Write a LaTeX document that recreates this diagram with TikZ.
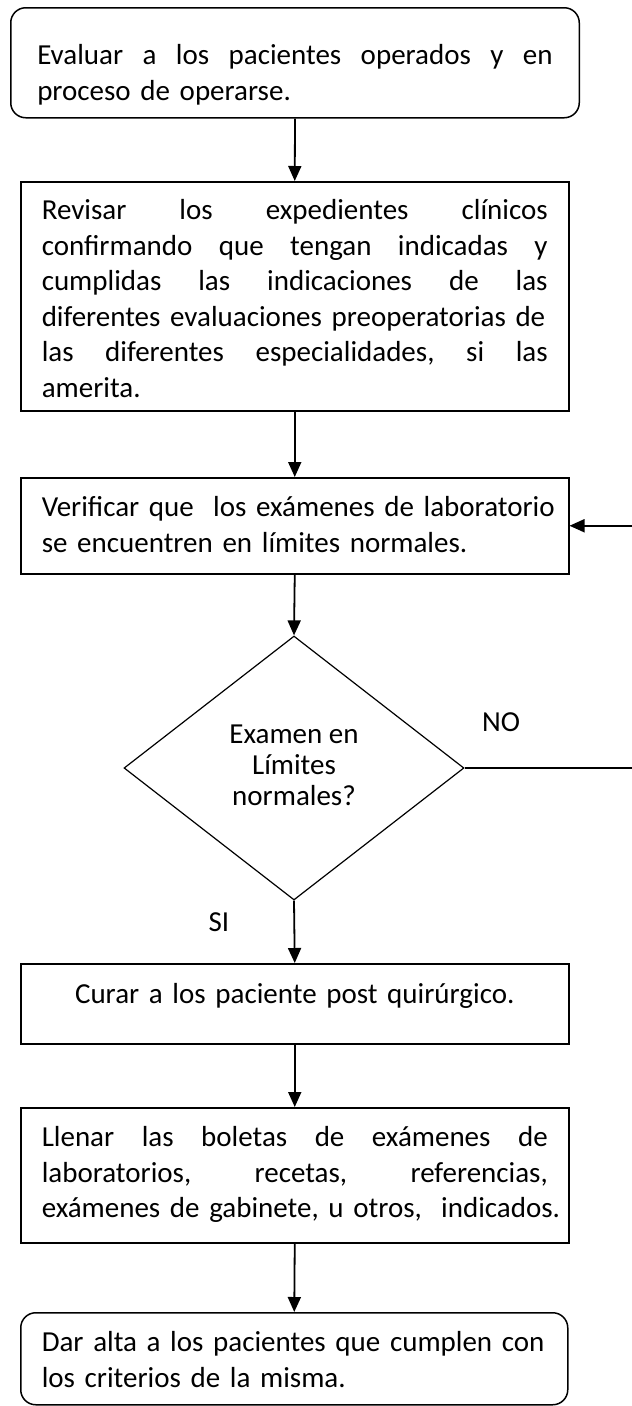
\documentclass[tikz,border=0pt]{standalone}
\usepackage{fontspec}
\setmainfont{Carlito}
\usetikzlibrary{arrows.meta,shapes.geometric}
\setlength{\parindent}{0pt}
\newcommand{\jl}[2]{\leavevmode\hbox to #1{#2}}
\begin{document}
\begin{tikzpicture}[x=1pt,y=-1pt,
  box/.style={draw, line width=1.5pt, anchor=north west, inner ysep=0pt, align=left,
    font=\fontsize{29}{35.5}\selectfont},
  rbox/.style={box, rounded corners=15pt},
  arr/.style={line width=1.8pt, -{Triangle[length=15pt,width=13pt]}},
  lbl/.style={font=\fontsize{29}{35.5}\selectfont, inner sep=0pt}]
\useasboundingbox (0,0) rectangle (632,1406);

\node[rbox, text width=515.5pt, inner xsep=26.5pt] (b1) at (10,7)
  {\jl{515.5pt}{\rule{0pt}{57pt}Evaluar\hfill a\hfill los\hfill pacientes\hfill operados\hfill y\hfill en}\\
   \jl{515.5pt}{proceso de operarse.\hfill\rule[-17.5pt]{0pt}{17.5pt}}};

\node[box, text width=506pt, inner xsep=21pt] (b2) at (20,181)
  {\jl{506pt}{\rule{0pt}{38pt}Revisar\hfill los\hfill expedientes\hfill clínicos}\\
   \jl{506pt}{confirmando\hfill que\hfill tengan\hfill indicadas\hfill y}\\
   \jl{506pt}{cumplidas\hfill las\hfill indicaciones\hfill de\hfill las}\\
   \jl{506pt}{diferentes evaluaciones preoperatorias de}\\
   \jl{506pt}{las\hfill diferentes\hfill especialidades,\hfill si\hfill las}\\
   \jl{506pt}{amerita.\hfill\rule[-13.5pt]{0pt}{13.5pt}}};

\node[box, text width=506pt, inner xsep=21pt] (b3) at (20,477)
  {\jl{506pt}{\rule{0pt}{39pt}Verificar que\ \ los exámenes de laboratorio}\\
   \jl{506pt}{se encuentren en límites normales.\hfill\rule[-21.5pt]{0pt}{21.5pt}}};

\node[draw, diamond, line width=1.2pt, minimum width=340pt, minimum height=264pt,
  inner sep=0pt, align=center, font=\fontsize{29}{31}\selectfont] (d) at (294,768)
  {\strut Examen en\\\strut Límites\\\strut normales?};

\node[box, text width=506pt, inner xsep=21pt, align=center] (b4) at (20,963)
  {\jl{506pt}{\hfill\rule[-40pt]{0pt}{80pt}Curar a los paciente post quirúrgico.\hfill}};

\node[box, text width=506pt, inner xsep=21pt] (b5) at (20,1107)
  {\jl{506pt}{\rule{0pt}{39pt}Llenar\hfill las\hfill boletas\hfill de\hfill exámenes\hfill de}\\
   \jl{506pt}{laboratorios,\hfill recetas,\hfill referencias,}\\
   \jl{506pt}{exámenes de gabinete, u otros,\ \ indicados.\rule[-25pt]{0pt}{25pt}}};

\node[rbox, text width=505pt, inner xsep=21pt] (b6) at (20,1312)
  {\jl{505pt}{\rule{0pt}{39pt}Dar alta a los pacientes que cumplen con\hss}\\
   \jl{505pt}{los criterios de la misma.\hfill\rule[-17.5pt]{0pt}{17.5pt}}};

\node[lbl] (no) at (501,722) {NO};
\node[lbl] (si) at (219,922) {SI};

\draw[arr] (b1.south) -- (b2.north);
\draw[arr] (b2.south) -- (b3.north);
\draw[arr] (b3.south) -- (d.north);
\draw[arr] (d.south) -- (b4.north);
\draw[arr] (b4.south) -- (b5.north);
\draw[arr] (b5.south) -- (b6.north);
\coordinate (r) at (645,768);
\draw[arr] (d.east) -- (r) |- (b3.east);
\end{tikzpicture}
\end{document}
